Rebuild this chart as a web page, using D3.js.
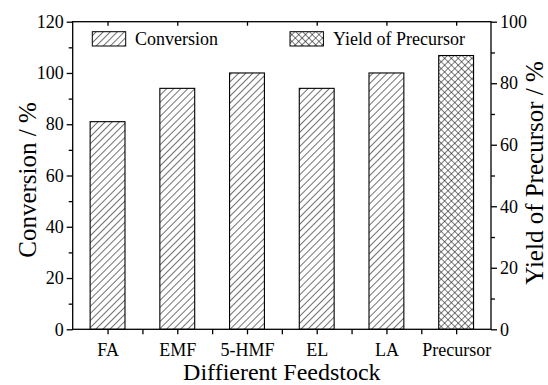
<!DOCTYPE html>
<html>
<head>
<meta charset="utf-8">
<script src="https://cdn.jsdelivr.net/npm/d3@7"></script>
<style>
  body { margin: 0; background: #fff; }
  text { font-family: "Liberation Serif", "Times New Roman", serif; }
</style>
</head>
<body>
<svg width="548" height="385"></svg>
<script>
var categories = ["FA", "EMF", "5-HMF", "EL", "LA", "Precursor"];
var conversion = [81, 94, 100, 94, 100];   // left axis, %
var precursorYield = [89];                 // right axis, %
var leftTicks = [0, 20, 40, 60, 80, 100, 120];
var rightTicks = [0, 20, 40, 60, 80, 100];

var svg = d3.select("svg");
var pLeft = 72.7, pRight = 491, pTop = 21.7, pBottom = 329.3;

var x = d3.scaleLinear().domain([0.5, 6.5]).range([pLeft, pRight]);
var y = d3.scaleLinear().domain([0, 120]).range([pBottom, pTop]);
var y2 = d3.scaleLinear().domain([0, 100]).range([pBottom, pTop]);
var barW = x(1.5) - x(1);

// hatch patterns
var defs = svg.append("defs");
var hatch = defs.append("pattern")
  .attr("id", "hatch")
  .attr("patternUnits", "userSpaceOnUse")
  .attr("width", 5).attr("height", 5)
  .attr("patternTransform", "rotate(45)");
hatch.append("line")
  .attr("x1", 0).attr("y1", 0).attr("x2", 0).attr("y2", 5)
  .attr("stroke", "#111").attr("stroke-width", 1.2);

var cross = defs.append("pattern")
  .attr("id", "cross")
  .attr("patternUnits", "userSpaceOnUse")
  .attr("width", 4.8).attr("height", 4.8)
  .attr("patternTransform", "rotate(45)");
cross.append("line")
  .attr("x1", 0).attr("y1", 0).attr("x2", 0).attr("y2", 4.8)
  .attr("stroke", "#111").attr("stroke-width", 1.1);
cross.append("line")
  .attr("x1", 0).attr("y1", 0).attr("x2", 4.8).attr("y2", 0)
  .attr("stroke", "#111").attr("stroke-width", 1.1);

// bars
svg.selectAll(".conv")
  .data(conversion)
  .enter().append("rect")
  .attr("x", function(d, i) { return x(i + 1) - barW / 2; })
  .attr("y", function(d) { return y(d); })
  .attr("width", barW)
  .attr("height", function(d) { return y(0) - y(d); })
  .attr("fill", "url(#hatch)")
  .attr("stroke", "#000")
  .attr("stroke-width", 1.1);

svg.selectAll(".prec")
  .data(precursorYield)
  .enter().append("rect")
  .attr("x", x(6) - barW / 2)
  .attr("y", function(d) { return y2(d); })
  .attr("width", barW)
  .attr("height", function(d) { return y2(0) - y2(d); })
  .attr("fill", "url(#cross)")
  .attr("stroke", "#000")
  .attr("stroke-width", 1.1);

function style(g) {
  g.attr("font-family", "Liberation Serif, serif").attr("font-size", 18);
  g.selectAll("line").attr("stroke", "#000").attr("stroke-width", 1.3);
  g.selectAll("text").attr("fill", "#000");
  g.select(".domain").remove();
}

// left axis
svg.append("g").attr("transform", "translate(" + pLeft + ",0)")
  .call(d3.axisLeft(y).tickValues(leftTicks).tickSize(6).tickPadding(3))
  .call(style);
svg.append("g").attr("transform", "translate(" + pLeft + ",0)")
  .call(d3.axisLeft(y).tickValues([10, 30, 50, 70, 90, 110]).tickSize(4).tickFormat(""))
  .call(style);

// right axis
svg.append("g").attr("transform", "translate(" + pRight + ",0)")
  .call(d3.axisRight(y2).tickValues(rightTicks).tickSize(6).tickPadding(3))
  .call(style);
svg.append("g").attr("transform", "translate(" + pRight + ",0)")
  .call(d3.axisRight(y2).tickValues([10, 30, 50, 70, 90]).tickSize(4).tickFormat(""))
  .call(style);

// bottom axis
svg.append("g").attr("transform", "translate(0," + pBottom + ")")
  .call(d3.axisBottom(x).tickValues([1, 2, 3, 4, 5, 6]).tickSize(5).tickPadding(9)
    .tickFormat(function(d) { return categories[d - 1]; }))
  .call(style);
svg.append("g").attr("transform", "translate(0," + pBottom + ")")
  .call(d3.axisBottom(x).tickValues([1.5, 2.5, 3.5, 4.5, 5.5]).tickSize(5).tickFormat(""))
  .call(style);

// top ticks (inward)
svg.append("g").attr("transform", "translate(0," + pTop + ")")
  .call(d3.axisBottom(x).tickValues([1, 2, 3, 4, 5, 6]).tickSize(4).tickFormat(""))
  .call(style);

// frame
svg.append("rect")
  .attr("x", pLeft).attr("y", pTop)
  .attr("width", pRight - pLeft).attr("height", pBottom - pTop)
  .attr("fill", "none").attr("stroke", "#000").attr("stroke-width", 1.3);

// legend
var legend = [
  {label: "Conversion", fill: "url(#hatch)", bx: 92.3, tx: 135},
  {label: "Yield of Precursor", fill: "url(#cross)", bx: 290, tx: 333}
];
legend.forEach(function(l) {
  svg.append("rect")
    .attr("x", l.bx).attr("y", 31.7).attr("width", 33.4).attr("height", 14.3)
    .attr("fill", l.fill).attr("stroke", "#000").attr("stroke-width", 1);
  svg.append("text")
    .attr("x", l.tx).attr("y", 45)
    .attr("font-size", 18)
    .text(l.label);
});

// axis titles
svg.append("text")
  .attr("x", (pLeft + pRight) / 2).attr("y", 380)
  .attr("text-anchor", "middle").attr("font-size", 24)
  .text("Diffierent Feedstock");

svg.append("text")
  .attr("transform", "translate(36,180) rotate(-90)")
  .attr("text-anchor", "middle").attr("font-size", 25)
  .text("Conversion / %");

svg.append("text")
  .attr("transform", "translate(543,173) rotate(-90)")
  .attr("text-anchor", "middle").attr("font-size", 25)
  .text("Yield of Precursor / %");
</script>
</body>
</html>
